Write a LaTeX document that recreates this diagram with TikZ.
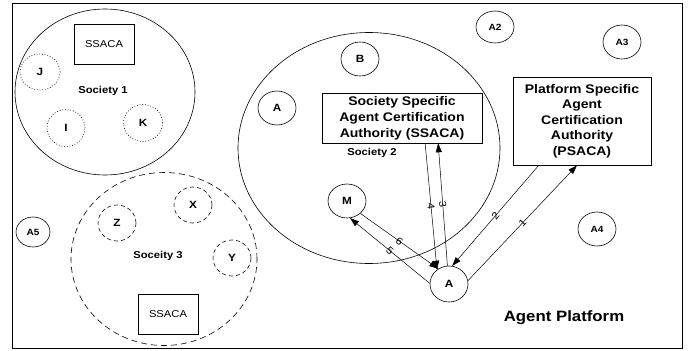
\documentclass[tikz,border=0pt]{standalone}
\usepackage{fontspec}
\setmainfont{Liberation Sans}[FakeStretch=1.12]
\usetikzlibrary{shapes.geometric,arrows.meta,calc}
\begin{document}
\begin{tikzpicture}[x=1pt,y=-1pt,
  line width=0.6pt,
  agent/.style={draw, ellipse, minimum width=38pt, minimum height=34pt, inner sep=0pt,
    font=\bfseries\fontsize{10.5}{10.5}\selectfont},
  agentsm/.style={agent, font=\bfseries\fontsize{9}{9}\selectfont},
  dotmember/.style={agent, dotted, line width=0.7pt},
  dashmember/.style={agent, dash pattern=on 4pt off 3pt},
  society/.style={draw, ellipse, inner sep=0pt},
  soclabel/.style={font=\bfseries\fontsize{10}{10}\selectfont},
  casmall/.style={draw, rectangle, inner sep=0pt, minimum width=60pt, minimum height=40pt,
    font=\fontsize{10}{12}\selectfont},
  cabig/.style={draw, rectangle, inner sep=0pt, align=center},
  conn/.style={-{Triangle[length=9pt,width=6pt]}, line width=0.5pt},
  num/.style={sloped, font=\fontsize{10}{10}\selectfont, inner sep=0.5pt},
 ]
\useasboundingbox (0,0) rectangle (697,351);

% platform frame
\draw[line width=0.8pt] (12,3) rectangle (682,348);

% Society 1
\node[society, minimum width=180pt, minimum height=166pt] (soc1) at (105,92) {};
\node[soclabel] (soc1lab) at (103,91) {Society 1};
\node[casmall] (ss1) at (104,44) {SSACA};
\node[dotmember, minimum width=40pt, minimum height=36pt] (J) at (40,72) {J};
\node[dotmember, minimum height=37pt] (I) at (66,128) {I};
\node[dotmember, minimum width=39pt, minimum height=37pt] (K) at (143,123) {K};

% Society 3
\node[society, dash pattern=on 6pt off 4pt, minimum width=186pt, minimum height=173pt] (soc3) at (164,259) {};
\node[soclabel] (soc3lab) at (158,256) {Soceity 3};
\node[casmall] (ss3) at (168,314) {SSACA};
\node[dashmember, minimum height=36pt] (Z) at (117,223) {Z};
\node[dashmember, minimum height=36pt] (X) at (193,205) {X};
\node[dashmember, minimum height=36pt] (Y) at (232,258) {Y};

% Society 2
\node[society, minimum width=262pt, minimum height=231pt] (soc2) at (369,148) {};
\node[soclabel] (soc2lab) at (372,153) {Society 2};
\node[agent] (B) at (360,59) {B};
\node[agent] (Ain) at (277,108) {A};
\node[agent] (M) at (347,201) {M};
\node[cabig, minimum width=160pt, minimum height=50pt,
      font=\bfseries\fontsize{12.5}{16}\selectfont] (ssaca) at (402,118)
  {Society Specific\\Agent Certification\\Authority (SSACA)};

% platform level
\node[cabig, minimum width=138pt, minimum height=88pt,
      font=\bfseries\fontsize{12.5}{15.5}\selectfont] (psaca) at (582,121)
  {Platform Specific\\Agent\\Certification\\Authority\\(PSACA)};
\node[agent, minimum height=36pt] (agA) at (449,284) {A};
\node[agentsm, minimum height=32pt] (A2) at (495,27) {A2};
\node[agentsm] (A3) at (622,42) {A3};
\node[agentsm] (A4) at (597,229) {A4};
\node[agentsm, minimum width=34pt, minimum height=30pt] (A5) at (33,232) {A5};
\node[font=\bfseries\fontsize{15}{15}\selectfont] (plat) at (564,318) {Agent Platform};

% certification exchange
\draw[conn] (agA.10) -- node[num]{1} ($(psaca.south west)!0.464!(psaca.south east)$);
\draw[conn] ($(psaca.south west)!0.188!(psaca.south east)$) -- node[num]{2} (agA.80);
\draw[conn] (agA.95) -- node[num]{3} ($(ssaca.south west)!0.725!(ssaca.south east)$);
\draw[conn] ($(ssaca.south west)!0.644!(ssaca.south east)$) -- node[num]{4} (agA.130);
\draw[conn] (agA.178) -- node[num]{5} (M.-80);
\draw[conn] (M.-43) -- node[num]{6} (agA.125);
\end{tikzpicture}
\end{document}
